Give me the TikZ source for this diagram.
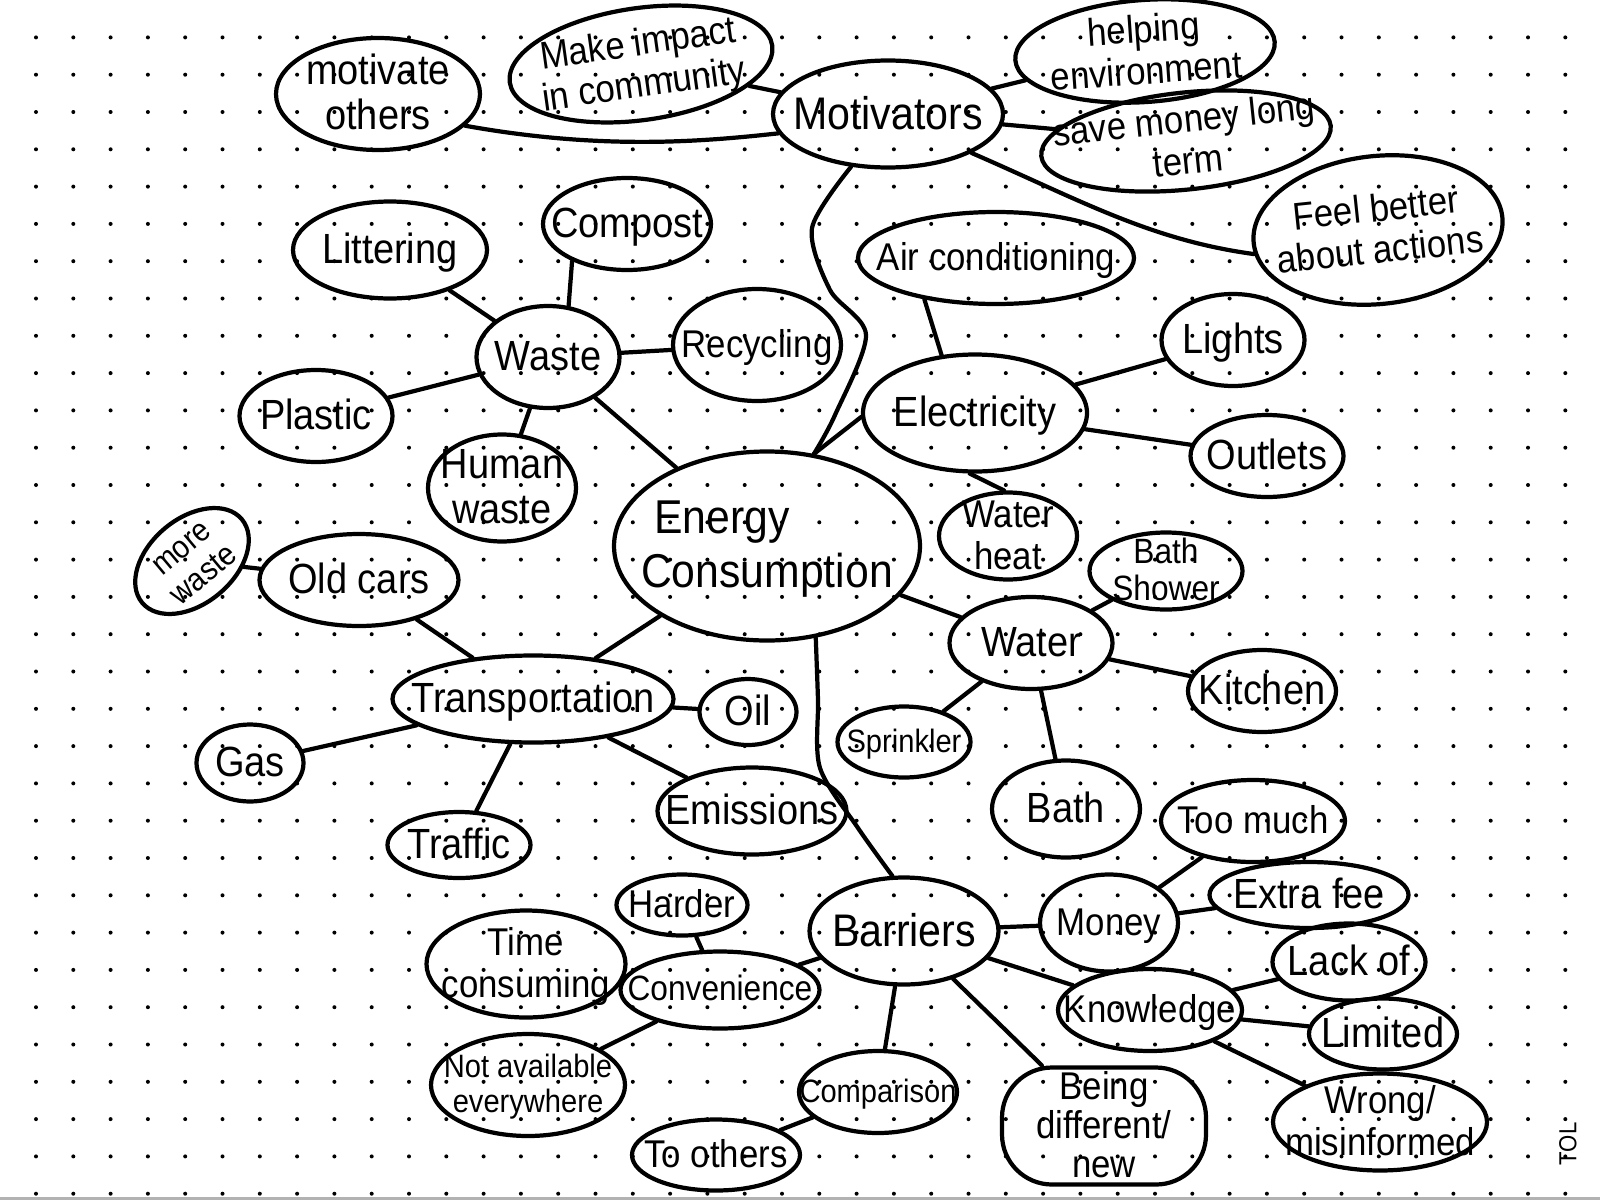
\documentclass[tikz,border=0pt]{standalone}
\usepackage{fontspec}
\setmainfont{Liberation Sans}[FakeStretch=0.9]
\usepackage{tikz}
\usetikzlibrary{shapes.geometric}
\usetikzlibrary{calc}

% texte centré qui ne grossit pas la bulle
\newcommand{\etiq}[1]{\makebox[0pt]{\smash{\raisebox{-0.35em}{\begin{tabular}{@{}c@{}}#1\end{tabular}}}}}
\renewcommand{\arraystretch}{0.95}

\begin{document}
\begin{tikzpicture}[x=0.01cm, y=-0.01cm,
	bulle/.style={ellipse, draw, line width=\trait, inner sep=0pt, font=\fontsize{12}{13.5}\selectfont},
	taille/.style 2 args={minimum width=#1*0.01cm, minimum height=#2*0.01cm},
	grand/.style={font=\fontsize{13.5}{16}\selectfont},
	moyen/.style={font=\fontsize{13}{15}\selectfont},
	petit/.style={font=\fontsize{11}{12.5}\selectfont},
	mini/.style={font=\fontsize{10}{11}\selectfont},
	micro/.style={font=\fontsize{9.2}{10.5}\selectfont},
	lien/.style={line width=\trait, line cap=round}]

%%%%%%%%%%%%%%%%%%%%%%
%%%	   Def style    %%%
%%%%%%%%%%%%%%%%%%%%%%

\def \trait{1.2pt}
\def \pas{37.3}

\useasboundingbox (0,0) rectangle (1600,1200);

%%%%%%%%%%%%%%%%%%%%%%
%%%	  Papier pointé  %%%
%%%%%%%%%%%%%%%%%%%%%%

\foreach \i in {0,...,42}
	\foreach \j in {0,...,31}
		\fill (36+\pas*\i, 37.4+\pas*\j) circle[radius=0.02cm];
\draw[gray!60, line width=1.2pt] (0,1199) -- (1600,1199);

%%%%%%%%%%%%%%%%%%%%%%
%%%	    Bulles      %%%
%%%%%%%%%%%%%%%%%%%%%%

% Centre
\node[bulle, grand, taille={306}{189}] (energy) at (767,546) {\etiq{Energy\hspace*{0.9cm}\\Consumption}};

% Motivations
\node[bulle, moyen, taille={230}{107}] (motivators) at (888,114) {\etiq{Motivators}};
\node[bulle, taille={204}{112}] (others) at (378,94) {\etiq{motivate\\others}};
\node[bulle, petit, taille={265}{112}, rotate=8] (impact) at (641,64) {\etiq{Make impact\\in community}};
\node[bulle, petit, taille={260}{102}, rotate=4] (environment) at (1145,51) {\etiq{helping\\environment}};
\node[bulle, petit, taille={291}{97}, rotate=6] (savemoney) at (1186,141) {\etiq{save money long\\term}};
\node[bulle, petit, taille={250}{148}, rotate=6] (feelbetter) at (1378,230) {\etiq{Feel better\\about actions}};

% Déchets
\node[bulle, taille={143}{102}] (waste) at (548,357) {\etiq{Waste}};
\node[bulle, taille={194}{97}] (littering) at (390,250) {\etiq{Littering}};
\node[bulle, taille={168}{92}] (compost) at (627,224) {\etiq{Compost}};
\node[bulle, petit, taille={168}{112}] (recycling) at (757,345) {\etiq{Recycling}};
\node[bulle, taille={153}{92}] (plastic) at (316,416) {\etiq{Plastic}};
\node[bulle, taille={148}{107}] (humanwaste) at (502,488) {\etiq{Human\\waste}};

% Electricité
\node[bulle, taille={224}{117}] (electricity) at (975,413) {\etiq{Electricity}};
\node[bulle, petit, taille={276}{92}] (aircon) at (996,258) {\etiq{Air conditioning}};
\node[bulle, taille={143}{92}] (lights) at (1233,340) {\etiq{Lights}};
\node[bulle, taille={153}{82}] (outlets) at (1267,456) {\etiq{Outlets}};
\node[bulle, petit, taille={138}{87}] (waterheat) at (1008,536) {\etiq{Water\\heat}};

% Eau
\node[bulle, taille={163}{92}] (water) at (1031,643) {\etiq{Water}};
\node[bulle, mini, taille={153}{77}] (bathshower) at (1166,571) {\etiq{Bath\\Shower}};
\node[bulle, taille={148}{82}] (kitchen) at (1262,691) {\etiq{Kitchen}};
\node[bulle, micro, taille={133}{71}] (sprinkler) at (904,742) {\etiq{Sprinkler}};
\node[bulle, taille={148}{97}] (bath) at (1066,809) {\etiq{Bath}};

% Transport
\node[bulle, taille={281}{87}] (transportation) at (533,699) {\etiq{Transportation}};
\node[bulle, taille={199}{92}] (oldcars) at (359,580) {\etiq{Old cars}};
\node[bulle, micro, taille={130}{85}, rotate=40] (morewaste) at (192,561) {\etiq{more\\waste}};
\node[bulle, taille={97}{66}] (oil) at (748,712) {\etiq{Oil}};
\node[bulle, taille={107}{77}] (gas) at (250,763) {\etiq{Gas}};
\node[bulle, taille={143}{66}] (traffic) at (459,845) {\etiq{Traffic}};
\node[bulle, taille={189}{87}] (emissions) at (752,811) {\etiq{Emissions}};

% Freins
\node[bulle, moyen, taille={189}{107}] (barriers) at (904,931) {\etiq{Barriers}};
\node[bulle, mini, taille={199}{77}] (convenience) at (720,990) {\etiq{Convenience}};
\node[bulle, petit, taille={131}{61}] (harder) at (682,905) {\etiq{Harder}};
\node[bulle, petit, taille={199}{107}] (timeconsuming) at (526,964) {\etiq{Time\\consuming}};
\node[bulle, micro, taille={194}{102}] (notavailable) at (528,1085) {\etiq{Not available\\everywhere}};
\node[bulle, micro, taille={158}{82}] (comparison) at (878,1092) {\etiq{Comparison}};
\node[bulle, petit, taille={168}{71}] (toothers) at (716,1155) {\etiq{To others}};
\node[bulle, rectangle, rounded corners=0.5cm, taille={204}{117}, font=\fontsize{11}{11.5}\selectfont] (different) at (1104,1126) {\etiq{Being\\different/\\new}};
\node[bulle, petit, taille={138}{97}] (money) at (1109,923) {\etiq{Money}};
\node[bulle, petit, taille={184}{82}] (toomuch) at (1253,821) {\etiq{Too much}};
\node[bulle, taille={199}{66}] (extrafee) at (1309,895) {\etiq{Extra fee}};
\node[bulle, petit, taille={184}{82}] (knowledge) at (1150,1010) {\etiq{Knowledge}};
\node[bulle, taille={153}{77}] (lackof) at (1349,962) {\etiq{Lack of}};
\node[bulle, taille={148}{71}] (limited) at (1383,1034) {\etiq{Limited}};
\node[bulle, petit, taille={214}{97}] (wrong) at (1380,1122) {\etiq{Wrong/\\misinformed}};

% Signature
\node[rotate=90, font=\fontsize{7}{8}\selectfont] (sign) at (1568,1144) {TOL};

%%%%%%%%%%%%%%%%%%%%%%
%%%	    Liens       %%%
%%%%%%%%%%%%%%%%%%%%%%

% Motivations
\draw[lien] (others.-20) .. controls (600,150) and (700,142) .. (motivators.190);
\draw[lien] (impact) -- (motivators);
\draw[lien] (motivators) -- (environment);
\draw[lien] (motivators) -- (savemoney);
\draw[lien] (motivators.-25) .. controls (1080,200) and (1150,240) .. (feelbetter.185);
\draw[lien] plot[smooth] coordinates {(motivators.-125) (812,228) (830,290) (866,335) (835,415) (energy.63)};

% Branches du centre
\draw[lien] (energy) -- (waste);
\draw[lien] (energy.63) -- (electricity.182);
\draw[lien] (energy) -- (water);
\draw[lien] (energy) -- (transportation);
\draw[lien] plot[smooth] coordinates {(energy.-62) (818,700) (820,768) (858,828) (barriers.102)};

% Déchets
\draw[lien] (waste) -- (littering);
\draw[lien] (waste.68) -- (compost.-146);
\draw[lien] (waste) -- (recycling);
\draw[lien] (waste) -- (plastic);
\draw[lien] (waste) -- (humanwaste);

% Electricité
\draw[lien] (electricity.120) -- (aircon.-150);
\draw[lien] (electricity) -- (lights);
\draw[lien] (electricity) -- (outlets);
\draw[lien] (electricity.-95) -- (waterheat.95);

% Eau
\draw[lien] (water) -- (bathshower);
\draw[lien] (water) -- (kitchen);
\draw[lien] (water) -- (sprinkler);
\draw[lien] (water) -- (bath);

% Transport
\draw[lien] (transportation) -- (oldcars);
\draw[lien] (oldcars) -- (morewaste);
\draw[lien] (transportation) -- (oil);
\draw[lien] (transportation) -- (gas);
\draw[lien] (transportation) -- (traffic);
\draw[lien] (transportation) -- (emissions);

% Freins
\draw[lien] (barriers) -- (convenience);
\draw[lien] (convenience) -- (harder);
\draw[lien] (convenience) -- (timeconsuming);
\draw[lien] (convenience) -- (notavailable);
\draw[lien] (barriers) -- (comparison);
\draw[lien] (comparison) -- (toothers);
\draw[lien] (barriers) -- (different);
\draw[lien] (barriers) -- (money);
\draw[lien] (barriers) -- (knowledge);
\draw[lien] (money) -- (toomuch);
\draw[lien] (money) -- (extrafee);
\draw[lien] (knowledge) -- (lackof);
\draw[lien] (knowledge) -- (limited);
\draw[lien] (knowledge) -- (wrong);

\end{tikzpicture}
\end{document}
